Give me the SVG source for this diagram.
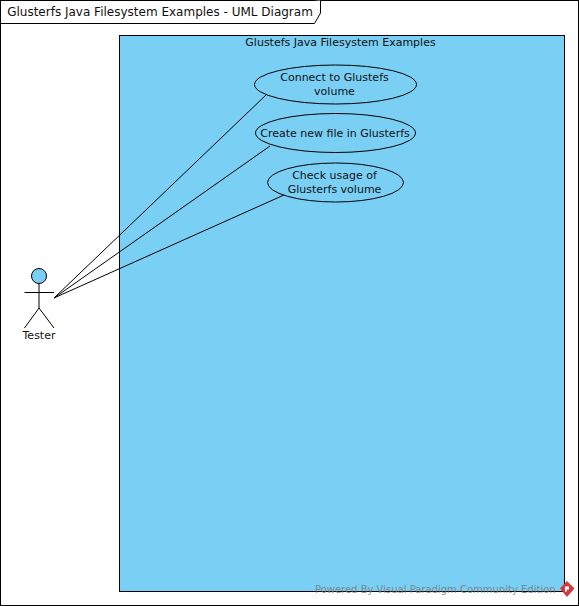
<svg xmlns="http://www.w3.org/2000/svg" width="579" height="606" viewBox="0 0 579 606">
<style>
text{font-family:"DejaVu Sans",sans-serif;font-size:11px;fill:#111;text-anchor:middle}
.l{fill:none;stroke:#000;stroke-width:1}
.u{fill:#7acff5;stroke:#000;stroke-width:1}
</style>
<rect x="0" y="0" width="579" height="606" fill="#fff"/>
<g id="frame">
<rect class="l" x="0.5" y="0.5" width="578" height="605"/>
<path d="M0.5 23.5H314.500L320.500 13V0.500" fill="#fff" stroke="#000"/>
<text x="160" y="16" style="font-size:12px">Glusterfs Java Filesystem Examples - UML Diagram</text>
</g>
<g id="system">
<rect class="u" x="119.500" y="35.500" width="445" height="556"/>
<text x="340.500" y="46">Glustefs Java Filesystem Examples</text>
</g>
<g id="connectors">
<path class="l" d="M54 298L266 95M54 298L270 146M54 298L284 195"/>
</g>
<g id="uc1">
<ellipse class="u" cx="335.500" cy="84.500" rx="81" ry="19.500"/>
<text x="334.500" y="81">Connect to Glustefs</text><text x="334.500" y="95">volume</text>
</g>
<g id="uc2">
<ellipse class="u" cx="335.500" cy="133" rx="80" ry="19.500"/>
<text x="335" y="137">Create new file in Glusterfs</text>
</g>
<g id="uc3">
<ellipse class="u" cx="335.500" cy="182.500" rx="68" ry="19.500"/>
<text x="334.500" y="179">Check usage of</text><text x="334.500" y="193">Glusterfs volume</text>
</g>
<g id="actor">
<circle class="u" cx="39" cy="276" r="7.500"/>
<path class="l" d="M39 283.500V308M24.500 292.500H54M39 308L24.500 328M39 308L54 328"/>
<text x="39" y="339">Tester</text>
</g>
<g id="watermark">
<text x="435.300" y="593" style="font-size:10px;fill:#777;opacity:.8">Powered By Visual Paradigm Community Edition</text>
<path d="M567 581L574.500 588.500L567 597L560 588.500Z" fill="#d2383c"/>
<path d="M565 586.500h4v3h-2v2h-2Z" fill="#fff"/>
</g>
</svg>
